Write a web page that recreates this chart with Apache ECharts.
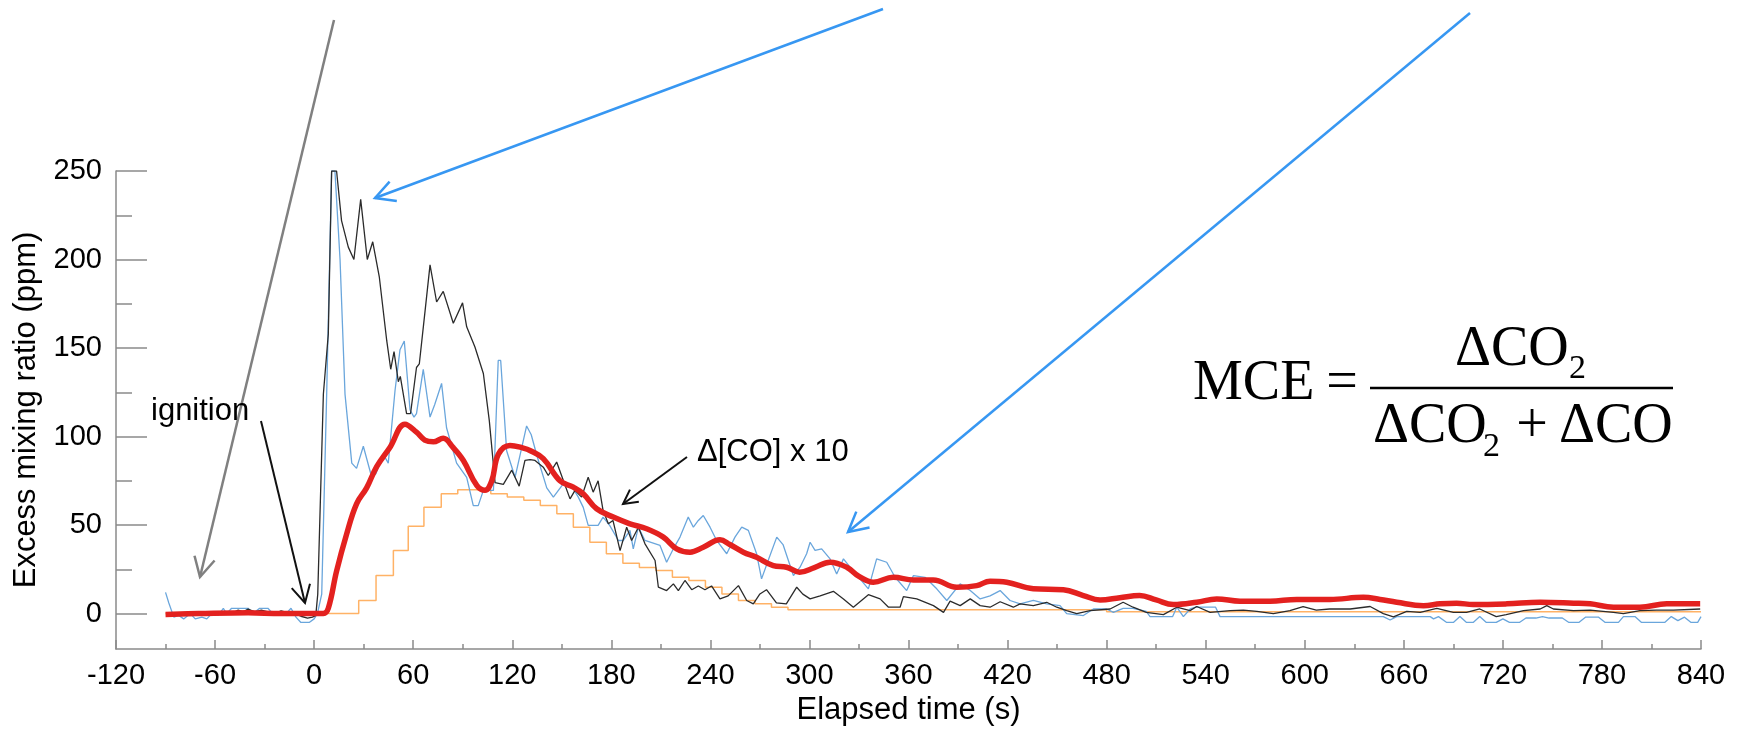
<!DOCTYPE html>
<html>
<head>
<meta charset="utf-8">
<title>Excess mixing ratio</title>
<script src="https://cdn.jsdelivr.net/npm/echarts@6.0.0/dist/echarts.min.js"></script>
<style>
    html, body { margin: 0; padding: 0; background: #fff; }
    #main { width: 1746px; height: 732px; }
</style>
</head>
<body>
<div id="main"></div>
<script>
// time (s) / excess mixing ratio (ppm)
var blackTrace = [
    [-88, -1], [-84, 0], [-80, -1], [-75, 0], [-70, -0.5], [-65, 0.5], [-60, 0], [-55, 1], [-50, 0], [-46, 2],
    [-43, 1], [-40, 2.5], [-36, 1], [-32, 2], [-28, 1], [-24, 0], [-20, 1.5], [-16, 0.5], [-12, 0], [-8, -1.5],
    [-4, -2.5], [-1, -2], [1, -1], [2.2, 11], [5.6, 124], [8.6, 158], [10.6, 250], [13.6, 250], [16.6, 222], [20.7, 207],
    [24.1, 200], [28.2, 234], [32.2, 200], [35.5, 210], [39.5, 190], [44, 154], [46.4, 138], [48.4, 148], [51, 131], [52.2, 134],
    [56, 113], [58.4, 113], [62, 139], [63.7, 141], [67.2, 171], [70.2, 197], [74.2, 176], [78.2, 182], [84.3, 164], [89.9, 175.5],
    [92.4, 162], [97.4, 150.6], [102.5, 135.6], [106.1, 109], [109.6, 74], [114.6, 73], [119.7, 81], [124.2, 72], [127.7, 86.5], [130.8, 87],
    [133.8, 86.5], [138.8, 82.7], [141.8, 78], [146.9, 85.6], [151, 75], [155, 64.8], [158, 69.6], [162, 65.8], [166, 77], [169, 68.6],
    [172, 75], [175, 58.3], [178.2, 50.7], [181, 52.6], [185.3, 35.6], [189.3, 48.8], [192.3, 41.3], [196.4, 48.8], [200.4, 39.4], [206.5, 30],
    [208.5, 14.9], [213.5, 13], [217.6, 16.8], [220.6, 13], [224.6, 18.7], [228.7, 13.5], [232.7, 15.6], [236.7, 13.5], [240.7, 15.6], [245.8, 8.3],
    [250.8, 10], [257, 15.8], [262, 7.4], [266, 5.5], [270, 11.1], [274, 13.5], [280, 6], [286, 5.5], [292.3, 14.9], [296, 11],
    [300.4, 8.3], [306.5, 10], [314.5, 12.6], [320.6, 8.3], [326.6, 3.6], [335.7, 10.7], [342.8, 8.3], [347.9, 3.6], [354.9, 3.6], [356.9, 9.6],
    [365, 8.3], [375.1, 4.5], [381.2, 0.7], [385.2, 7], [391.3, 4.5], [397.4, 8.3], [403.4, 4.5], [409.4, 3.6], [415.5, 6.7], [423.5, 3.6],
    [427.6, 5.5], [435.6, 4.5], [443.7, 6.4], [449.8, 3.6], [455.8, 1.7], [461.9, 0], [470, 1.7], [482.1, 2.6], [490, 6.4], [496, 3.6],
    [504, 0.7], [514.4, -0.6], [522.5, 3.6], [530.5, 1.7], [534.6, 4], [542.7, 0.7], [554.8, 1.7], [562.8, 2], [571, 1.3], [581, 0],
    [591, 1.7], [599, 4], [607, 2], [615, 2.6], [627.5, 2.6], [639.6, 4], [647.6, 0], [653.7, -1.9], [661.8, 1.3], [669.9, 0.7],
    [680, 3], [690, 0.7], [698, 0.7], [706, 2.6], [716, -1.7], [722, -0.6], [732.5, 1.7], [742.6, 2.6], [746.6, 4.5], [750.6, 2.6],
    [762.8, 1.7], [772.9, 2], [787, 0.7], [793, 0], [803, 1.7], [813, 2], [823.3, 2], [839.5, 2.6]
];

var blueTrace = [
    [-90, 12], [-88, 6], [-85, -2], [-82, -1], [-79, -3], [-75, 0], [-72, -3], [-68, -2], [-65, -3], [-62, 0],
    [-58, -1], [-55, 3], [-53, 0], [-50, 3], [-45, 3], [-40, 3], [-37, 0], [-33, 3], [-28, 3], [-25, 0],
    [-20, -1], [-17, 0], [-14, 3], [-11, -2], [-8, -5], [-3, -5], [0, -3], [2, 0], [4.6, 11], [7.6, 124],
    [10.6, 250], [12.6, 250], [15.7, 200], [18.7, 124], [22.8, 85], [25.7, 82], [29.8, 94.5], [34.9, 77], [37.4, 79], [41.9, 90],
    [44.9, 85], [49, 126], [52, 149], [54.6, 154], [58.1, 115], [60.5, 111], [62, 113], [66.1, 138], [70.2, 111], [73, 118],
    [77.2, 130], [80.2, 105], [86.3, 85], [92.4, 77], [96.4, 61], [99.4, 61], [102.5, 69.6], [108.6, 69.6], [111.5, 143], [113, 143],
    [116.6, 92], [121.7, 77], [128.7, 106], [131.5, 101], [135, 89], [140.9, 71], [144.9, 65.8], [151, 73.4], [156, 72], [160, 65.8],
    [163, 60], [166, 49.8], [172, 49.8], [175, 54.5], [179, 49.8], [184.3, 41.3], [187.3, 41.3], [191.3, 47], [193.3, 36.6], [196.4, 48.8],
    [200.4, 41.3], [209.5, 38.5], [213.5, 29], [217.6, 36.6], [221.6, 43.2], [226.6, 54.5], [229.7, 48.8], [232.7, 52.6], [235.7, 55.4], [239.8, 48.8],
    [243.8, 41.3], [249.9, 33.8], [254.9, 43.2], [259, 48.8], [263, 47], [268, 33.8], [271, 19.6], [275, 30], [280.2, 43.2], [284, 39],
    [290.3, 21.5], [294.3, 26.2], [298.3, 33.8], [300.4, 40.3], [303.4, 35.7], [307.4, 36.6], [312.5, 30.9], [316.5, 22.4], [320.6, 30.9], [324.6, 26.2],
    [330.6, 19.6], [335.7, 14], [340.7, 30.9], [346.8, 29], [351.9, 20.5], [358.9, 13], [363, 21.5], [370, 20.5], [377.1, 14], [383.2, 7.4],
    [391.3, 16.8], [397.4, 13], [403.4, 8.3], [409.4, 10], [415.5, 13], [421.5, 7.4], [427.6, 5.5], [435.6, 7.4], [443.7, 5.5], [451.8, 4.5],
    [455.8, 0], [465.9, -1.1], [472, 2.6], [480, 2.6], [484.1, 0.7], [490, 3], [496, 3], [504, 1.3], [506.3, -1.7], [520, -1.7],
    [522.5, 3.6], [526.5, -1.7], [530.6, 2.6], [534, 3.6], [546, 3.6], [548.7, -1.7], [647.6, -1.7], [651.7, -3.6], [655.7, -1.7], [676, -1.7],
    [678, -3], [681, -1.7], [686, -5], [690, -5], [694, -1.7], [698, -5], [702, -5], [706, -1.7], [710, -5], [716, -5],
    [720, -3], [724, -5], [730, -5], [734, -2.5], [740, -2.5], [744, -1.7], [748, -2.5], [756, -2.5], [760, -5], [766, -5],
    [770, -2], [778, -2], [782, -5], [790, -5], [793, -1.7], [800, -1.7], [804, -5], [818, -5], [822, -1.7], [826, -4],
    [830, -2], [834, -5], [838, -5], [840, -1.7]
];

var redTrace = [
    [-90, -0.5], [-70, 0], [-40, 0.5], [-20, 0], [0, 0], [5.6, 0], [8.6, 3], [13.6, 24], [19.7, 45], [25.7, 62],
    [31.8, 71], [37.9, 83], [46, 94], [55, 107], [62, 102.5], [67, 98], [72.2, 97], [78.2, 99], [84, 94], [90.4, 86.5],
    [98.5, 72.4], [103.5, 69.6], [107.6, 75], [111.6, 90], [118.6, 95], [126.7, 93.5], [131, 92], [138.8, 87.5], [148.9, 75], [157, 71.4],
    [163, 67.7], [171.1, 59.2], [181.2, 54.5], [191.3, 50.7], [201.4, 47.9], [211.5, 43.2], [219.6, 36.6], [227.7, 34.7], [235.7, 37.5], [245.8, 41.7],
    [251.8, 39], [260, 34.7], [268, 31.8], [278.1, 27.1], [286.2, 26.2], [294, 23.4], [303, 26], [312.5, 29], [322.6, 26.2], [330, 21],
    [338.7, 17.7], [350.8, 20.5], [363, 19], [375, 19], [389.2, 14.9], [401.3, 15.8], [409.4, 18.3], [419.5, 17.7], [435.6, 14], [453.8, 13.5],
    [465.9, 10.2], [476, 7.7], [488, 9], [500, 10.2], [510, 7.7], [520.4, 5.1], [534.6, 6.4], [546.7, 8.3], [560.8, 7], [579, 7],
    [595.2, 8], [615.3, 8], [635.5, 9.2], [645.6, 8], [655.7, 6.4], [671.9, 4.5], [682, 5.5], [692, 5.9], [702, 5.1], [722.4, 5.5],
    [742.6, 6.4], [762.8, 5.9], [772.9, 5.5], [787, 3.6], [803, 3.6], [819.3, 5.5], [839.5, 5.5]
];

// stepped trace: value holds until the next time
var orangeSteps = [
    [-90, 0], [27, 7.4], [37.5, 21.5], [48, 35.6], [57, 49.4], [66.5, 60], [77, 67.7], [87, 70], [107, 67.7], [117, 65.8],
    [127, 64], [137, 61], [147, 56.4], [157, 48.8], [167, 40.3], [177, 33.8], [187, 28.5], [197, 26], [207, 24.3], [217, 20.5],
    [227, 18.7], [237, 14.9], [247, 11.1], [257, 7.4], [267, 5.5], [277, 3.6], [287, 2.2], [480, 1], [840, 1]
];

var yLabelValues = [0, 50, 100, 150, 200, 250];
var yMinorValues = [25, 75, 125, 175, 225];

var axisGray = '#8a8a8a';
var sansFont = 'Liberation Sans';
var serifFont = 'Liberation Serif';

// simple open arrow: a shaft plus a V head at (x2, y2)
function arrow(x1, y1, x2, y2, color, width, headLen) {
    var a = Math.atan2(y2 - y1, x2 - x1);
    var ang = 28 * Math.PI / 180;
    var head = [
        [x2 - headLen * Math.cos(a - ang), y2 - headLen * Math.sin(a - ang)],
        [x2, y2],
        [x2 - headLen * Math.cos(a + ang), y2 - headLen * Math.sin(a + ang)]
    ];
    return [{
        type: 'line',
        shape: { x1: x1, y1: y1, x2: x2, y2: y2 },
        style: { stroke: color, lineWidth: width },
        z: 100
    }, {
        type: 'polyline',
        shape: { points: head },
        style: { stroke: color, lineWidth: width, fill: null },
        z: 100
    }];
}

function label(text, x, y, size, family, align) {
    return {
        type: 'text',
        x: x,
        y: y,
        z: 100,
        style: {
            text: text,
            fontSize: size,
            fontFamily: family,
            fill: '#000',
            align: align || 'left',
            verticalAlign: 'middle'
        }
    };
}

var graphics = []
    .concat(arrow(334, 20, 200, 577, '#808080', 2.5, 22))
    .concat(arrow(261, 421, 305, 603, '#111', 2, 20))
    .concat(arrow(883, 9, 375, 198, '#3797f2', 2.5, 22))
    .concat(arrow(1470, 13, 848, 532, '#3797f2', 2.5, 22))
    .concat(arrow(687, 457, 623, 504, '#111', 2, 16));

graphics.push(label('ignition', 151, 411, 31, sansFont));
graphics.push(label('\u0394[CO] x 10', 697, 452, 31, sansFont));

// MCE = dCO2 / (dCO2 + dCO)
graphics.push(label('MCE', 1193, 384, 56, serifFont));
graphics.push(label('=', 1342, 384, 56, serifFont, 'center'));
graphics.push({
    type: 'line',
    shape: { x1: 1370, y1: 388, x2: 1673, y2: 388 },
    style: { stroke: '#000', lineWidth: 2.5 },
    z: 100
});
graphics.push(label('\u0394CO', 1455, 350, 56, serifFont));
graphics.push(label('2', 1569, 369, 34, serifFont));
graphics.push(label('\u0394CO', 1373, 427, 56, serifFont));
graphics.push(label('2', 1483, 447, 34, serifFont));
graphics.push(label('+', 1532, 427, 56, serifFont, 'center'));
graphics.push(label('\u0394CO', 1559, 427, 56, serifFont));

function lineSeries(data, color, width, extra) {
    var s = {
        type: 'line',
        data: data,
        yAxisIndex: 0,
        symbol: 'none',
        silent: true,
        lineStyle: { color: color, width: width },
        itemStyle: { color: color }
    };
    for (var k in extra) s[k] = extra[k];
    return s;
}

var myChart = echarts.init(document.getElementById('main'), null, { renderer: 'canvas' });

var option = {
    animation: false,
    backgroundColor: '#fff',
    grid: { left: 116, right: 45, top: 171, bottom: 83 },
    xAxis: {
        type: 'value',
        min: -120,
        max: 840,
        interval: 60,
        name: 'Elapsed time (s)',
        nameLocation: 'middle',
        nameGap: 44,
        nameTextStyle: { fontSize: 31, fontFamily: sansFont, color: '#000' },
        axisLine: { onZero: false, lineStyle: { color: axisGray, width: 1.5 } },
        axisTick: { inside: true, length: 9, lineStyle: { color: axisGray, width: 1.5 } },
        minorTick: { show: true, splitNumber: 2, length: 5, lineStyle: { color: axisGray, width: 1.5 } },
        axisLabel: { fontSize: 29, fontFamily: sansFont, color: '#000', margin: 12 },
        splitLine: { show: false }
    },
    yAxis: [{
        type: 'value',
        min: -20,
        max: 250,
        name: 'Excess mixing ratio (ppm)',
        nameLocation: 'middle',
        nameGap: 74,
        nameTextStyle: { fontSize: 31, fontFamily: sansFont, color: '#000' },
        axisLine: { show: true, onZero: false, lineStyle: { color: axisGray, width: 1.5 } },
        axisTick: { inside: true, length: 31, customValues: yLabelValues, lineStyle: { color: axisGray, width: 1.5 } },
        axisLabel: { fontSize: 29, fontFamily: sansFont, color: '#000', margin: 14, customValues: yLabelValues },
        splitLine: { show: false }
    }, {
        // second axis only carries the short minor ticks
        type: 'value',
        min: -20,
        max: 250,
        position: 'left',
        axisLine: { show: false, onZero: false },
        axisTick: { inside: true, length: 16, customValues: yMinorValues, lineStyle: { color: axisGray, width: 1.5 } },
        axisLabel: { show: false },
        splitLine: { show: false }
    }],
    series: [
        lineSeries(orangeSteps, '#ffb266', 1.5, { step: 'end' }),
        lineSeries(blueTrace, '#6aa6dc', 1.3, {}),
        lineSeries(blackTrace, '#2b2b2b', 1.3, {}),
        lineSeries(redTrace, '#e3211f', 5.5, { smooth: 0.4 })
    ],
    graphic: graphics
};

myChart.setOption(option);
</script>
</body>
</html>
